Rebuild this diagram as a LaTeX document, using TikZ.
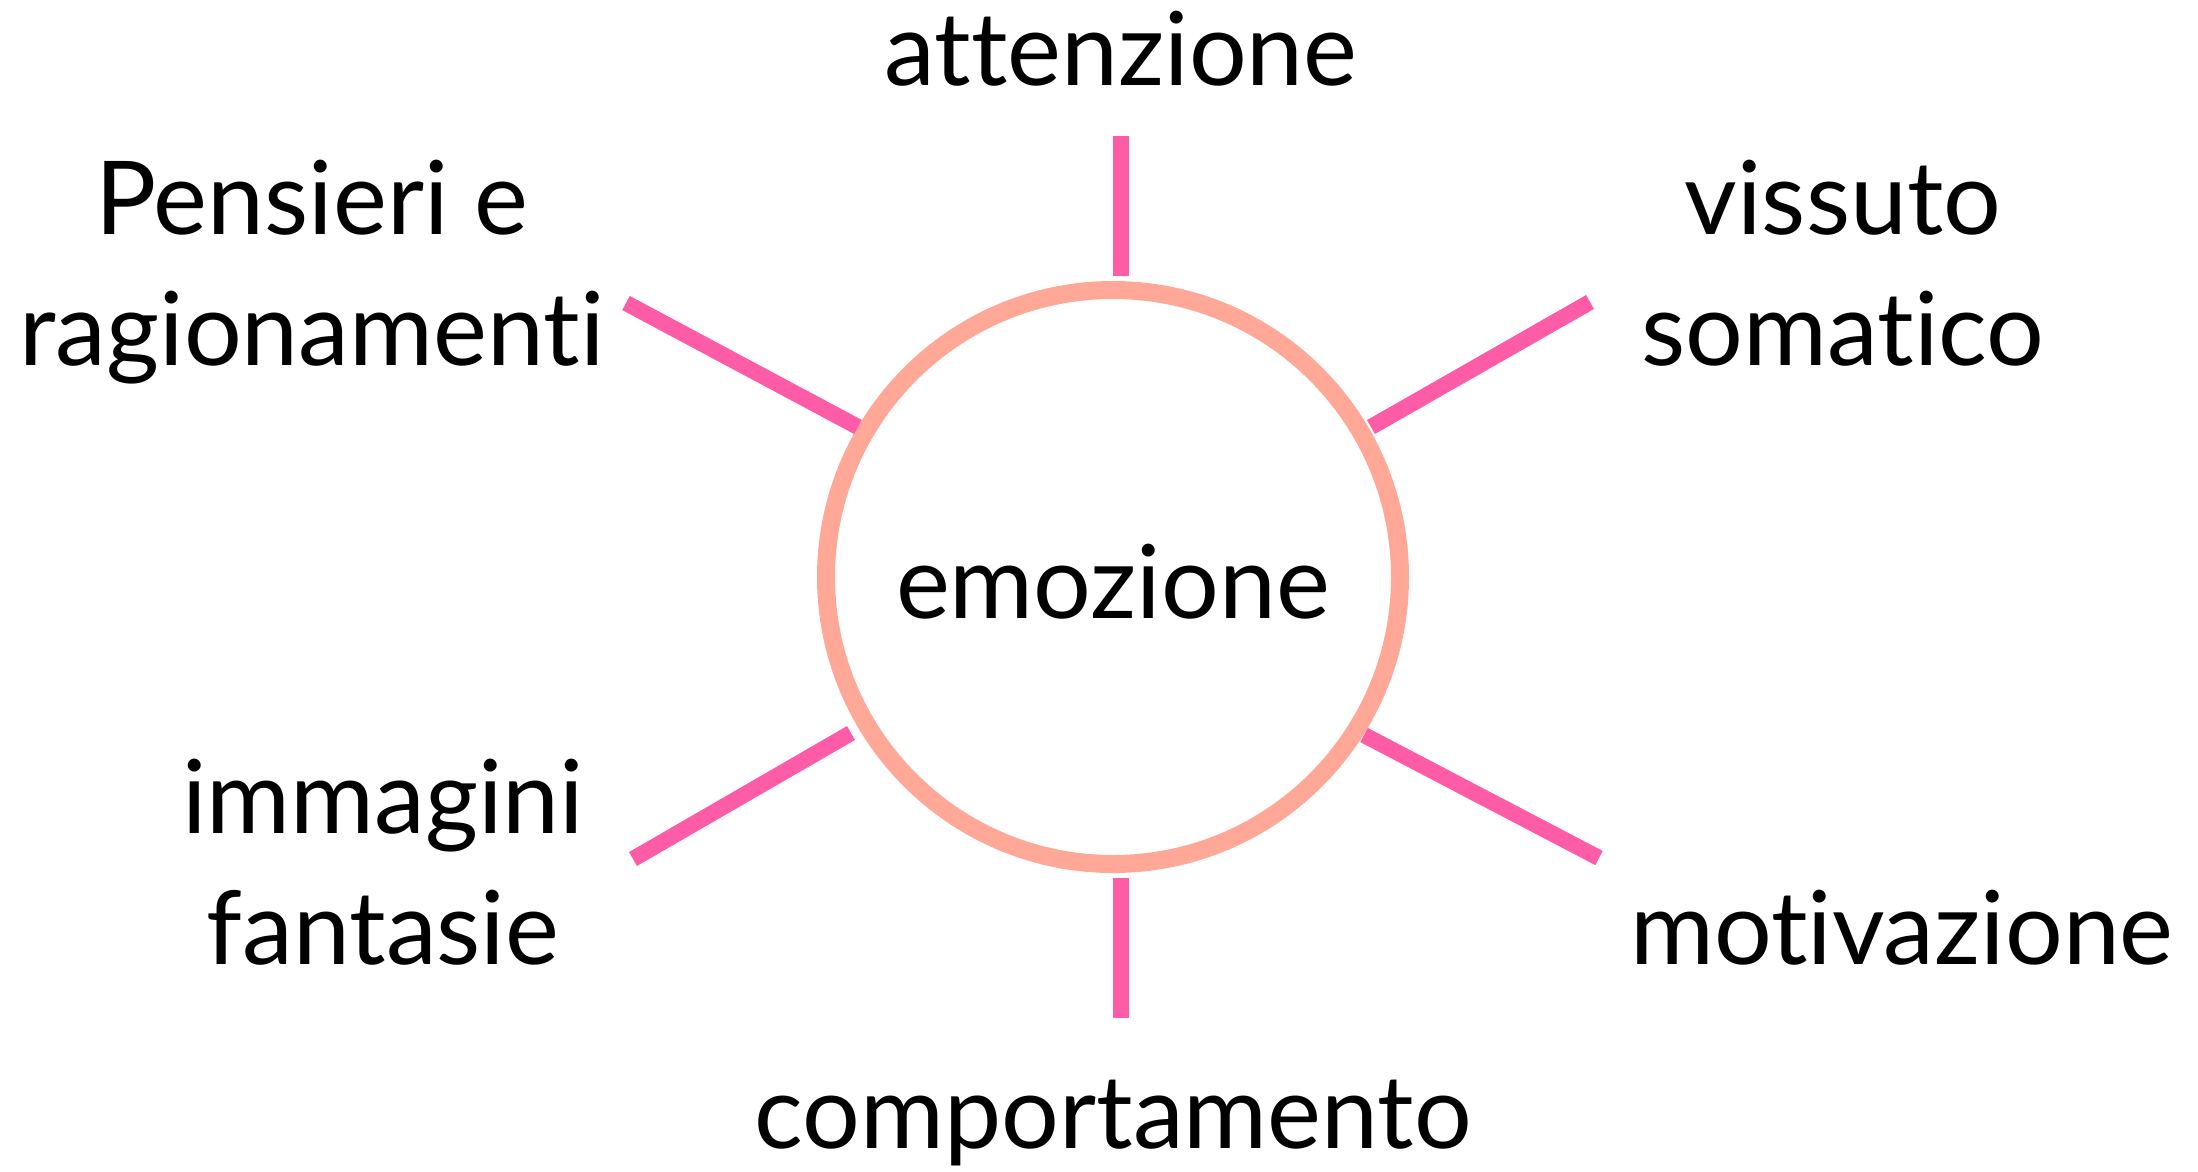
\documentclass[tikz,border=0pt]{standalone}
\usepackage{fontspec}
\setmainfont[Ligatures=NoCommon,RawFeature={-liga;-clig;-dlig}]{Lato}
\definecolor{spoke}{HTML}{FF5CA8}
\definecolor{ring}{HTML}{FFA898}
\begin{document}
\begin{tikzpicture}[x=1pt,y=-1pt,
  lbl/.style={inner sep=0pt,anchor=base,font=\fontsize{102}{122}\selectfont},
  spokeline/.style={draw=spoke,line width=16pt},
  ringline/.style={draw=ring,line width=18pt}]
\useasboundingbox (0,0) rectangle (2198,1171);
\fill[white] (0,0) rectangle (2198,1171);
% ring
\node[circle,ringline,minimum size=574pt,inner sep=0pt] (emo) at (1113,577) {};
\node[lbl] (emot) at (1113,618) {emozione};
% spoke end points
\coordinate (t1) at (1121,136); \coordinate (t2) at (1121,276);
\coordinate (b1) at (1121,878); \coordinate (b2) at (1121,1018);
\coordinate (ul1) at (626,303); \coordinate (ul2) at (858,427);
\coordinate (ur1) at (1590,302); \coordinate (ur2) at (1371,427);
\coordinate (ll1) at (633,859); \coordinate (ll2) at (851,733);
\coordinate (lr1) at (1599,858); \coordinate (lr2) at (1364,735);
\draw[spokeline] (t1) -- (t2);
\draw[spokeline] (b1) -- (b2);
\draw[spokeline] (ul1) -- (ul2);
\draw[spokeline] (ur1) -- (ur2);
\draw[spokeline] (ll1) -- (ll2);
\draw[spokeline] (lr1) -- (lr2);
% labels
\node[lbl] (att) at (1121,85) {attenzione};
\node[lbl] (pen1) at (312,234) {Pensieri e};
\node[lbl] (pen2) at (312,365) {ragionamenti};
\node[lbl] (vis1) at (1843,234) {vissuto};
\node[lbl] (vis2) at (1843,365) {somatico};
\node[lbl] (imm1) at (383,833) {immagini};
\node[lbl] (imm2) at (383,964) {fantasie};
\node[lbl] (mot) at (1902,964) {motivazione};
\node[lbl] (com) at (1113,1148) {comportamento};
\end{tikzpicture}
\end{document}
